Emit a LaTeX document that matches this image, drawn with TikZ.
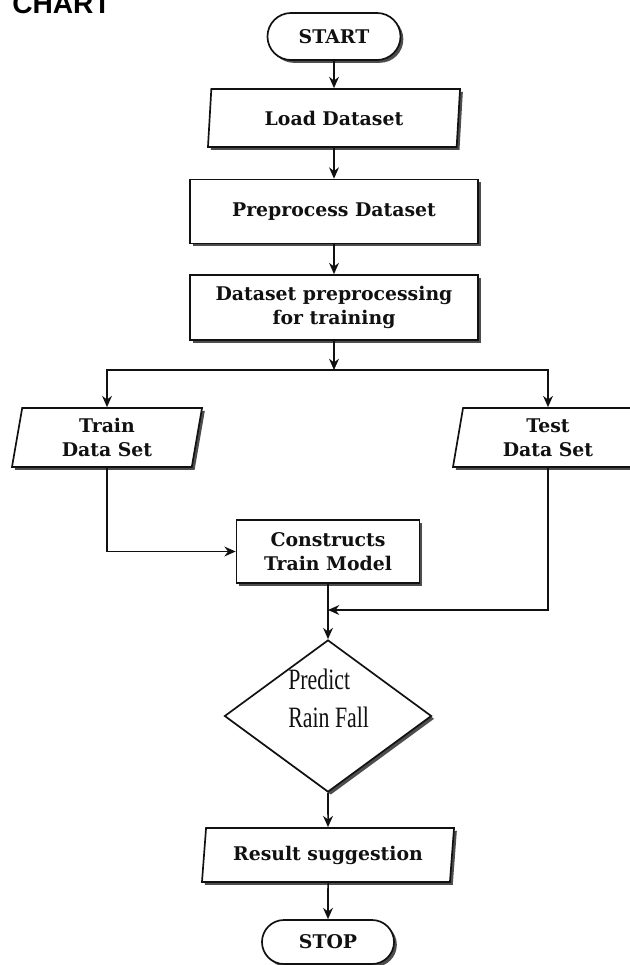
\documentclass[tikz,border=0pt]{standalone}
\usepackage{fontspec}
\newfontfamily\boxfont{DejaVu Serif}
\newfontfamily\diafont[FakeStretch=0.74]{Liberation Serif}
\newfontfamily\headfont{Liberation Sans}
\usetikzlibrary{arrows.meta, shapes.geometric, shapes.misc, shadows}

\begin{document}
\begin{tikzpicture}[
    x=0.025cm, y=-0.025cm,
    every node/.style={font=\boxfont\bfseries\fontsize{13.4}{16.8}\selectfont},
]

% ---------------------------------------------------------------- colours
\definecolor{c1}{HTML}{111111}     % outlines, words, connectors
\definecolor{shade}{HTML}{3A3A3A}  % the drop shadow under every shape

% ================================================================
% Geometry in pixels (x to the right, y down),
% one pixel = 0.025cm, so the sheet is 630 x 965.
%
%   upper column x = 334 : START, load, preprocess, preprocessing for training
%   lower column x = 328 : model, diamond, result, STOP
%   the split  sits at y = 370, the two data sets at x = 107 and x = 548
%   the merge  sits at y = 610, just under the model box
%
%   the test data set runs off the right edge, as it does on the sheet
% ================================================================

\def\colA{334}
\def\colB{328}
\def\splity{370}
\def\mergey{610}

\tikzset{
    shadowed/.style={drop shadow={shadow xshift=2pt, shadow yshift=-2pt,
        fill=shade, opacity=0.9}},
    term/.style={
        rounded rectangle, draw=c1, line width=1.2pt, fill=white, shadowed,
        inner sep=0pt, text=c1,
    },
    iobox/.style={
        trapezium, trapezium stretches body,
        trapezium left angle=77, trapezium right angle=103,
        draw=c1, line width=1.2pt, fill=white, shadowed,
        inner sep=0pt, text=c1, align=center,
    },
    procbox/.style={
        rectangle, draw=c1, line width=1.2pt, fill=white, shadowed,
        inner sep=0pt, text=c1, align=center,
    },
    decide/.style={
        diamond, draw=c1, line width=1.2pt, fill=white, shadowed,
        inner sep=0pt,
    },
    arr/.style={draw=c1, line width=1.1pt,
        -{Stealth[length=8pt, width=7pt]}},
}

\useasboundingbox (0,0) rectangle (630,965);

% ================================================================ heading
\node[font=\headfont\bfseries\fontsize{20}{24}\selectfont, anchor=base west,
      inner sep=0pt] (head) at (12, 14) {CHART};

% ================================================================ main column
\node[term, minimum width=3.325cm, minimum height=1.175cm]
    (start) at (\colA, 36.5) {START};
\node[iobox, minimum width=6.3cm, minimum height=1.45cm]
    (load) at (\colA, 118) {Load Dataset};
\node[procbox, minimum width=7.2cm, minimum height=1.6cm]
    (prep) at (\colA, 211.5) {Preprocess Dataset};
\node[procbox, minimum width=7.2cm, minimum height=1.625cm]
    (dprep) at (\colA, 307.5) {Dataset preprocessing\\for training};

% ================================================================ the two sets
\node[iobox, trapezium left angle=75, trapezium right angle=105,
      minimum width=4.75cm, minimum height=1.475cm]
    (train) at (107, 437.5) {Train\\Data Set};
\node[iobox, trapezium left angle=75, trapezium right angle=105,
      minimum width=4.75cm, minimum height=1.475cm]
    (test) at (548, 437.5) {Test\\Data Set};

\node[procbox, minimum width=4.575cm, minimum height=1.575cm]
    (model) at (\colB, 551.5) {Constructs\\Train Model};

% ================================================================ decision
\node[decide, minimum width=5.175cm, minimum height=3.8cm]
    (predict) at (\colB, 716) {};
\node[font=\diafont\fontsize{21}{27}\selectfont, text=c1, align=left,
      anchor=north west, inner sep=0pt]
    (predtxt) at (288, 669) {Predict\\Rain Fall};

\node[iobox, trapezium left angle=77.5, trapezium right angle=102.5,
      minimum width=6.3cm, minimum height=1.35cm]
    (result) at (\colB, 855) {Result suggestion};
\node[term, minimum width=3.3cm, minimum height=1.1cm]
    (stop) at (\colB, 942) {STOP};

% ================================================================ connectors
\foreach \a/\b in {start/load, load/prep, prep/dprep, predict/result, result/stop}
    \draw[arr] (\a) -- (\b);

\coordinate (split) at (\colA, \splity);
\draw[arr] (dprep) -- (split);
\draw[arr] (split) -| (train);
\draw[arr] (split) -| (test);

\draw[arr] (train) |- (model);

\coordinate (merge) at (\colB, \mergey);
\draw[arr] (model) -- (predict);
\draw[arr] (test) |- (merge);

\end{tikzpicture}
\end{document}
